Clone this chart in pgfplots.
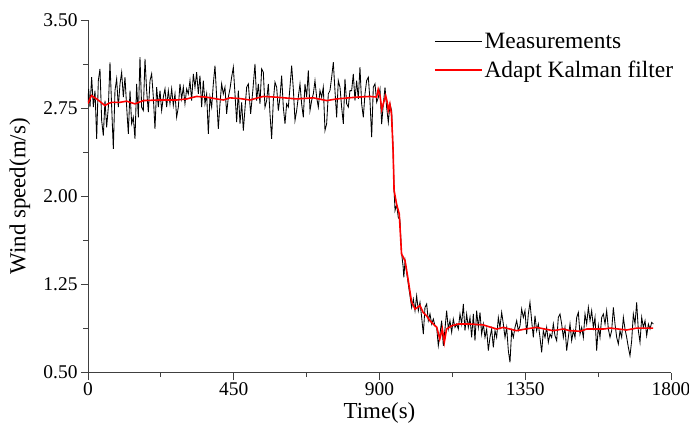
\documentclass[border=0pt]{standalone}
\usepackage{fontspec}
\setmainfont{Liberation Serif}
\usepackage{pgfplots}
\pgfplotsset{compat=1.18}
\pgfplotsset{
  legend image code/.code={\draw[#1] (0bp,0bp) -- (47bp,0bp);},
}
\begin{document}
\begin{tikzpicture}
\begin{axis}[
  at={(0,0)}, anchor=south west,
  scale only axis, width=583bp, height=352.4bp,
  xmin=0, xmax=1800, ymin=0.5, ymax=3.5,
  axis x line*=bottom, axis y line*=left,
  axis line style={-, line width=0.8bp, black!75},
  tick align=outside, major tick length=7bp, minor tick length=4.5bp,
  minor x tick num=1, minor y tick num=1,
  tick style={black!75, line width=0.8bp},
  xtick={0,450,900,1350,1800}, ytick={0.5,1.25,2,2.75,3.5},
  /pgf/number format/1000 sep={},
  /pgf/number format/assume math mode=true,
  yticklabel style={/pgf/number format/.cd, fixed, fixed zerofill, precision=2},
  tick label style={font=\fontsize{19.5}{20}\selectfont},
  label style={font=\fontsize{23}{26}\selectfont},
  xlabel={Time(s)}, ylabel={Wind speed(m/s)},
  ylabel style={at={(axis description cs:-0.117,0.5)}, anchor=center},
  legend style={draw=none, at={(axis description cs:0.588,0.975)}, anchor=north west,
    font=\fontsize{23.5}{27}\selectfont, row sep=7bp},
  legend cell align=left,
]
\addplot[black, line width=0.85bp] coordinates {
(0,2.801) (2,2.915) (6.2,2.759) (11.3,3.014) (16.5,2.759) (21.6,2.900) (26.8,2.489) (31.9,2.985) (37.0,3.085) (42.2,2.645)
(47.3,2.517) (52.5,2.815) (57.6,2.588) (62.8,2.759) (67.9,3.141) (73.1,2.759) (78.2,2.404) (83.3,2.900) (88.5,3.000) (93.6,2.759)
(98.8,2.957) (103.9,3.056) (109.1,2.844) (114.2,3.014) (119.4,2.759) (124.5,2.532) (129.7,2.900) (134.8,2.617) (139.9,2.673) (145.1,2.489)
(150.2,2.957) (155.4,2.673) (160.5,3.184) (165.7,2.759) (170.8,2.730) (176.0,3.170) (181.1,2.900) (186.3,2.716) (191.4,2.985) (196.5,3.042)
(201.7,2.844) (206.8,2.574) (212.0,2.929) (217.1,2.759) (222.3,2.900) (227.4,2.730) (232.6,2.844) (237.7,2.915) (242.8,2.759) (248.0,2.900)
(253.1,2.787) (258.3,2.915) (263.4,2.773) (268.6,2.872) (273.7,2.673) (278.9,2.759) (284.0,2.957) (289.1,2.829) (294.3,2.929) (299.4,2.787)
(304.6,2.915) (309.7,2.872) (314.9,2.985) (320.0,2.815) (325.2,3.042) (330.3,2.929) (335.5,3.056) (340.6,2.872) (345.7,3.028) (350.9,2.759)
(356.0,2.985) (361.2,2.787) (366.3,2.872) (371.5,2.532) (376.6,2.844) (381.8,2.759) (386.9,2.957) (392.1,3.113) (397.2,2.844) (402.3,2.574)
(407.5,2.787) (412.6,2.957) (417.8,2.872) (422.9,2.929) (428.1,2.702) (433.2,2.844) (438.4,2.915) (443.5,3.014) (448.7,3.099) (453.8,2.872)
(459.0,2.631) (464.1,2.900) (469.3,2.617) (474.4,2.800) (479.6,2.560) (484.8,2.750) (489.9,2.929) (495.0,2.957) (502.2,2.702) (508.9,2.900)
(515.6,3.127) (520.7,2.815) (525.9,2.957) (531.0,2.787) (536.2,3.085) (541.3,3.056) (546.4,2.759) (551.6,2.815) (556.7,2.957) (561.9,2.702)
(567.0,2.489) (572.2,2.815) (577.3,2.971) (582.5,2.929) (587.6,2.730) (592.8,2.844) (597.9,3.028) (603.0,2.759) (608.2,2.617) (613.3,2.787)
(618.5,2.759) (623.6,2.929) (628.8,3.113) (633.9,2.915) (639.1,2.645) (644.2,2.730) (649.3,2.844) (654.5,2.957) (659.6,2.787) (664.8,2.673)
(669.9,2.957) (675.1,2.844) (680.2,3.071) (685.4,2.730) (690.5,2.815) (695.7,2.872) (700.8,2.985) (705.9,2.844) (711.1,2.759) (716.2,2.900)
(721.4,2.844) (726.5,2.929) (731.7,2.560) (736.8,2.617) (742.0,2.872) (747.1,2.900) (752.3,3.014) (757.4,3.141) (762.5,2.900) (767.7,2.673)
(772.8,2.985) (778.0,2.929) (783.1,2.759) (788.3,2.617) (793.4,3.000) (798.6,2.787) (803.7,2.759) (808.8,2.900) (814.0,2.900) (819.1,3.042)
(824.3,2.815) (829.4,2.985) (834.6,2.829) (839.7,3.099) (844.9,2.787) (850.0,2.673) (855.2,2.872) (860.3,2.985) (865.5,3.014) (870.6,2.815)
(875.8,2.503) (880.9,2.929) (886.1,2.957) (891.3,2.800) (896.4,2.842) (901.5,2.912) (906.7,2.615) (911.8,2.785) (917.0,2.927) (922.1,2.756)
(927.2,2.629) (932.4,2.785) (937.5,2.728) (942,2.40) (945,2.05) (948,1.88) (953,1.93) (958,1.82) (963,1.80) (968,1.52)
(973,1.40) (975,1.31) (979,1.45) (984,1.35) (989,1.25) (994.1,1.153) (999.3,1.054) (1004.4,1.125) (1009.6,1.026) (1014.7,1.153)
(1019.9,1.026) (1025.0,1.097) (1030.2,0.969) (1035.3,0.827) (1040.4,1.054) (1045.6,1.083) (1050.7,0.941) (1055.9,0.998) (1061.0,0.913) (1066.2,0.955)
(1071.3,0.898) (1076.5,0.884) (1081.6,0.728) (1086.7,0.827) (1091.9,0.941) (1097.0,0.728) (1102.2,0.870) (1107.3,1.026) (1112.5,0.870) (1117.6,0.941)
(1122.8,0.842) (1127.9,0.955) (1133.1,0.884) (1138.2,0.913) (1143.3,0.870) (1148.5,0.998) (1153.6,0.913) (1158.8,1.083) (1163.9,0.856) (1169.1,0.998)
(1174.2,0.884) (1179.4,0.969) (1184.5,0.799) (1189.7,0.998) (1194.8,0.771) (1200.0,1.026) (1205.1,0.884) (1210.3,1.012) (1215.4,0.827) (1220.6,0.913)
(1225.7,0.799) (1230.9,0.870) (1236.0,0.686) (1241.1,0.799) (1246.3,0.870) (1251.4,0.714) (1256.6,0.856) (1261.7,0.799) (1266.9,0.969) (1272.0,0.884)
(1277.2,1.012) (1282.3,0.913) (1287.5,0.799) (1292.6,0.884) (1297.8,0.686) (1302.9,0.586) (1308.0,0.856) (1313.2,0.799) (1318.3,0.884) (1323.5,0.941)
(1328.6,0.856) (1333.8,0.898) (1338.9,1.040) (1344.1,0.969) (1349.2,1.026) (1354.4,0.827) (1359.5,0.998) (1364.6,1.097) (1369.8,0.941) (1374.9,0.799)
(1380.1,0.983) (1385.2,0.856) (1390.4,0.913) (1395.5,0.799) (1400.7,0.671) (1405.8,0.856) (1411.0,0.799) (1416.1,0.884) (1421.3,0.757) (1426.4,0.827)
(1431.5,0.799) (1436.7,0.913) (1441.8,0.813) (1447.0,0.771) (1452.1,0.969) (1457.3,0.998) (1462.4,0.913) (1467.6,0.799) (1472.7,0.884) (1477.9,0.686)
(1483.0,0.799) (1488.2,0.913) (1493.3,0.771) (1498.5,0.856) (1503.6,0.799) (1508.8,0.969) (1513.9,1.012) (1519.1,0.827) (1524.2,0.884) (1529.4,0.799)
(1534.5,0.998) (1539.7,0.913) (1544.8,1.054) (1550.0,0.941) (1555.1,1.026) (1560.2,0.884) (1565.4,0.969) (1570.5,0.686) (1575.7,0.898) (1580.8,0.799)
(1586.0,0.969) (1591.1,0.998) (1596.3,0.913) (1601.4,1.026) (1606.6,0.870) (1611.7,0.799) (1616.8,0.856) (1622.0,1.054) (1627.1,0.913) (1632.3,0.799)
(1637.4,0.742) (1642.6,0.856) (1647.7,0.799) (1652.9,0.969) (1658.0,0.870) (1663.2,0.799) (1668.3,0.714) (1673.4,0.643) (1678.6,0.771) (1683.7,0.998)
(1688.9,0.913) (1694.0,1.097) (1699.2,0.856) (1704.3,0.757) (1709.5,0.969) (1714.6,0.884) (1719.8,0.941) (1724.9,0.813) (1730.1,0.913) (1735.2,0.870)
(1740.4,0.927) (1745.5,0.913)
};
\addlegendentry{Measurements}
\addplot[red, line width=1.6bp] coordinates {
(0,2.79) (6,2.83) (11,2.858) (20,2.84) (27,2.829) (40,2.80) (52,2.773) (63,2.79) (73,2.80) (99,2.80)
(119,2.81) (145,2.787) (171,2.815) (222,2.82) (274,2.82) (305,2.829) (335,2.85) (366,2.844) (397,2.829) (418,2.82)
(438,2.838) (469,2.832) (500,2.82) (541,2.85) (582,2.844) (644,2.829) (696,2.838) (737,2.815) (768,2.829) (829,2.844)
(871,2.85) (891,2.845) (896,2.91) (902,2.85) (907,2.74) (913,2.80) (919,2.856) (924,2.80) (927,2.73) (932,2.785)
(937,2.70) (942,2.39) (945,2.05) (953,1.93) (961,1.85) (968,1.51) (979,1.45) (989,1.28) (999,1.10) (1010,1.04)
(1025,1.07) (1035,1.01) (1046,0.98) (1056,0.94) (1066,0.913) (1077,0.884) (1086,0.785) (1094,0.87) (1100,0.756) (1107,0.87)
(1123,0.898) (1143,0.913) (1179,0.913) (1220,0.905) (1262,0.87) (1282,0.884) (1323,0.856) (1350,0.87) (1385,0.884) (1436,0.856)
(1467,0.87) (1488,0.856) (1519,0.851) (1540,0.87) (1591,0.87) (1612,0.878) (1663,0.862) (1694,0.878) (1745,0.878)
};
\addlegendentry{Adapt Kalman filter}
\end{axis}
\pgfresetboundingbox
\path[use as bounding box] (-88bp,-51.5bp) rectangle (601bp,372.5bp);
\end{tikzpicture}
\end{document}
